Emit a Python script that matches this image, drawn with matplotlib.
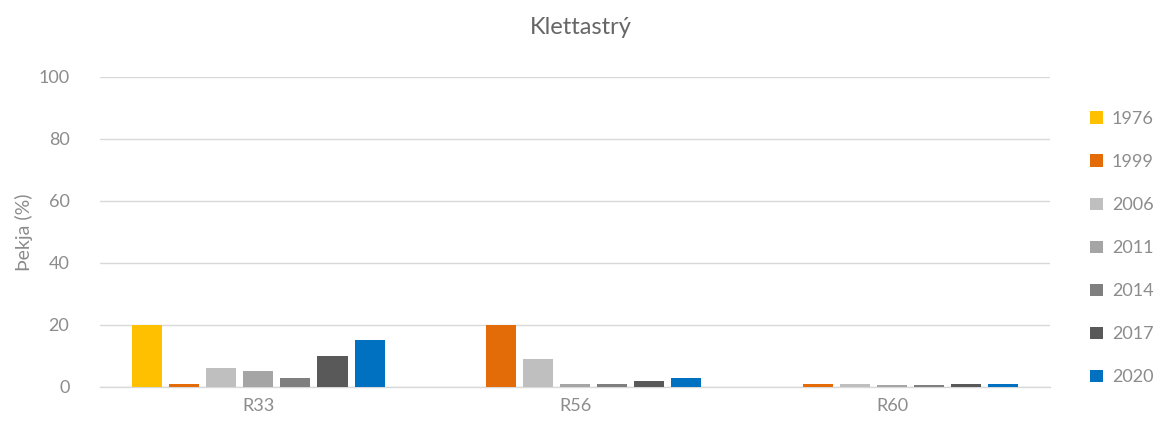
import matplotlib
matplotlib.use("Agg")
import matplotlib.pyplot as plt
import numpy as np

matplotlib.rc("font", family=["Lato", "DejaVu Sans"], size=13)

# Data
sites = ["R33", "R56", "R60"]
years = ["1976", "1999", "2006", "2011", "2014", "2017", "2020"]
cover_1976 = [20, 0, 0]
cover_1999 = [1, 20, 1]
cover_2006 = [6, 9, 1]
cover_2011 = [5, 1, 0.5]
cover_2014 = [3, 1, 0.5]
cover_2017 = [10, 2, 1]
cover_2020 = [15, 3, 1]
series = [cover_1976, cover_1999, cover_2006, cover_2011,
          cover_2014, cover_2017, cover_2020]

colours = ["#FFC000", "#E36C09", "#BFBFBF", "#A5A5A5",
           "#7F7F7F", "#595959", "#0070C0"]
textColour = "#8C8C8C"
gridColour = "#D9D9D9"

figure = plt.figure(figsize=(11.62, 4.28), dpi=100)
axes = figure.add_axes([0.086, 0.0958, 0.818, 0.7243])

x = np.arange(len(sites))
step = 0.117
width = 0.095
for i, (vals, year, col) in enumerate(zip(series, years, colours)):
    axes.bar(x + (i - 3) * step, vals, width=width, color=col, label=year,
             zorder=3)

axes.set_xlim(-0.5, 2.5)
axes.set_ylim(0, 100)
axes.set_yticks(range(0, 101, 20))
axes.set_xticks(x)
axes.set_xticklabels(sites)
axes.grid(axis="y", color=gridColour, linewidth=1, zorder=0)
for side in ["top", "right", "left"]:
    axes.spines[side].set_visible(False)
axes.spines["bottom"].set_color(gridColour)
axes.spines["bottom"].set_linewidth(1)
axes.tick_params(axis="both", length=0, colors=textColour, labelsize=13)
axes.tick_params(axis="y", pad=22)
axes.tick_params(axis="x", pad=8)
axes.set_ylabel("Þekja (%)", color=textColour, fontsize=14, labelpad=4)

figure.text(0.5, 0.935, "Klettastrý", ha="center", va="center",
            color="#666666", fontsize=17)

figure.legend(loc="center left", bbox_to_anchor=(0.932, 0.42),
              frameon=False, fontsize=13, labelcolor=textColour,
              handlelength=0.7, handleheight=0.7, handletextpad=0.5,
              labelspacing=1.5, borderaxespad=0)

figure.savefig("out.png", dpi=100)
